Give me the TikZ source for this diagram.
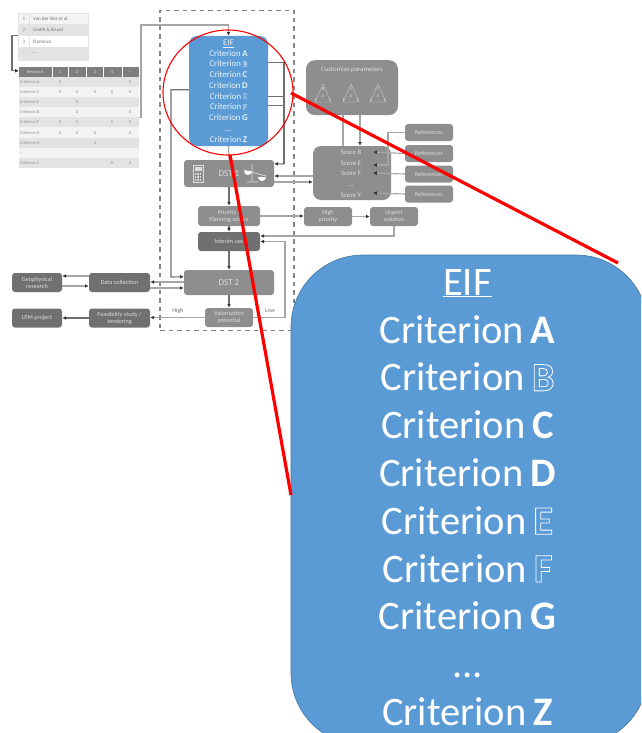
\documentclass[tikz,border=0pt]{standalone}
\usepackage{fontspec}
\setmainfont{Carlito}
\usetikzlibrary{arrows.meta,shapes.geometric}
\definecolor{eifblue}{HTML}{5B9BD5}
\definecolor{boxgrey}{HTML}{8E8E8E}
\definecolor{darkgrey}{HTML}{707070}
\definecolor{wiregrey}{HTML}{A6A6A6}
\definecolor{headdark}{HTML}{333333}
\definecolor{softtext}{HTML}{DDDDDD}
\definecolor{rowa}{HTML}{E3E3E3}
\definecolor{rowb}{HTML}{F3F3F3}
\definecolor{celltext}{HTML}{8A8A8A}
\newcommand{\tdots}{{.}{.}{.}}
\newcommand{\outl}[2]{\special{pdf:code q 1 Tr #2 w 1 1 1 RG}#1\special{pdf:code Q}}
\newcommand{\eifbody}[2]{\underline{EIF}\\Criterion#2\textbf{A}\\Criterion#2\textbf{\outl{B}{#1}}\\Criterion#2\textbf{C}\\Criterion#2\textbf{D}\\Criterion#2\textbf{\outl{E}{#1}}\\Criterion#2\textbf{\outl{F}{#1}}\\Criterion#2\textbf{G}\\...\\Criterion#2\textbf{Z}}
\tikzset{
  x=1pt,y=-1pt,
  gbox/.style={draw=none,fill=boxgrey,rounded corners=3pt,inner sep=0pt,align=center,text=softtext,font=\fontsize{6.2}{7}\selectfont},
  dbox/.style={gbox,fill=darkgrey},
  wire/.style={draw=wiregrey,line width=1.1pt},
  dwire/.style={draw=darkgrey,line width=1.1pt},
  arr/.style={-{Latex[length=3.8pt,width=3.8pt,color=headdark]}},
  cell/.style={inner sep=0pt,text=celltext,font=\fontsize{4.4}{5}\selectfont},
  hcell/.style={cell,text=softtext},
  score/.style={inner sep=0pt,text=softtext,font=\fontsize{6.8}{8}\selectfont},
  mini/.style={inner sep=0pt,text=softtext,font=\fontsize{4.4}{5}\selectfont},
  edgelabel/.style={inner sep=0pt,text=darkgrey,font=\fontsize{6}{7}\selectfont},
  redline/.style={draw=red,line width=3.2pt},
}
\begin{document}
\begin{tikzpicture}
\useasboundingbox (0,0) rectangle (641,733);
\clip (0,0) rectangle (641,733);
% dashed frame
\node[draw=darkgrey!85,line width=1.5pt,dash pattern=on 4.5pt off 4pt,minimum width=134,minimum height=320,inner sep=0pt] (frame) at (227,170.5) {};
% top table
\fill[rowb] (18,13) rectangle (88,24);
\fill[rowa] (18,24) rectangle (88,36);
\fill[white] (18,36) rectangle (88,47);
\fill[rowa] (18,47) rectangle (88,60);
\node[draw=rowa,line width=0.7pt,minimum width=70,minimum height=47,inner sep=0pt] (top) at (53,36.5) {};
\draw[rowa,line width=0.7pt] (29,13) -- (29,60);
\foreach \n/\y/\t/\s in {1/18.5/Van der Sler et al./1,2/30/Gaeth \& Kruyd/2,3/41.5/Flaminco/3,4/53.5/\tdots/\tdots}{
  \node[cell,font=\fontsize{5}{6}\selectfont] (topn\n) at (24,\y) {\s};
  \node[cell,font=\fontsize{5}{6}\selectfont,anchor=west,text=darkgrey] (topt\n) at (33,\y) {\t};
}
% criteria table
\node[fill=rowb,minimum width=120,minimum height=101,inner sep=0pt] (tbl) at (79,117.5) {};
\fill[darkgrey!90] (19,67) rectangle (139,77);
\foreach \r in {1,3,5,7,9}{\fill[rowa] (19,67+\r*10.1) rectangle (139,77+\r*10.1);}
\foreach \xa in {52,68,86,103,122}{\draw[white,line width=0.5pt] (\xa,67) -- (\xa,77);}
\node[hcell] (hd0) at (35,72) {Research};
\foreach \c/\x/\t in {1/60/1,2/77/2,3/95/3,4/112/4,5/130/\tdots}{\node[hcell] (hd\c) at (\x,72) {\t};}
\foreach \r/\t in {1/Criterion A,2/Criterion C,3/Criterion E,4/Criterion B,5/Criterion F,6/Criterion D,7/Criterion G,8/\tdots,9/Criterion Z}{
  \node[cell,anchor=west] (lab\r) at (20,72+\r*10.1) {\t};
}
\foreach \r/\x [count=\k] in {1/60,1/130,2/60,2/77,2/95,2/112,2/130,3/77,4/77,4/130,5/60,5/77,5/112,5/130,6/60,6/77,6/95,6/130,7/95,9/112,9/130}{
  \node[cell] (mk\k) at (\x,72+\r*10.1) {X};
}
% boxes
\node[fill=eifblue,rounded corners=8pt,minimum width=79,minimum height=110,inner sep=0pt,text=white!88!eifblue,align=center,font=\fontsize{8.8}{10.72}\selectfont] (eif) at (228.5,91) {\eifbody{0.15}{\hspace{1.6pt}}};
\node[gbox,minimum width=90,minimum height=27,font=\fontsize{9}{10}\selectfont] (dsta) at (229,173.5) {DST 1};
\node[gbox,minimum width=62,minimum height=20] (prio) at (229,216) {Priority /\\Planning advice};
\node[dbox,minimum width=62,minimum height=19] (inter) at (229,241.5) {Interim use};
\node[gbox,minimum width=90,minimum height=25,font=\fontsize{9}{10}\selectfont] (dstb) at (229,282.5) {DST 2};
\node[gbox,minimum width=48,minimum height=19] (val) at (229,317.5) {Valorisation\\potential};
\node[gbox,rounded corners=9pt,minimum width=92,minimum height=55,anchor=north,text depth=0pt] (cust) at (352,60) {};
\node[inner sep=0pt,text=softtext,font=\fontsize{6.8}{8}\selectfont] (custt) at (352,70) {Customize parameters};
\node[gbox,rounded corners=8pt,minimum width=78,minimum height=54] (scor) at (352,173) {};
\node[gbox,minimum width=48,minimum height=19] (hip) at (328,216.5) {High\\priority};
\node[gbox,minimum width=48,minimum height=19] (urg) at (394,216.5) {Urgent\\solution};
\foreach \n/\y in {1/132.5,2/153.5,3/174,4/194}{
  \node[gbox,minimum width=48,minimum height=17] (ref\n) at (429,\y) {References};
}
\node[dbox,minimum width=50,minimum height=19] (geo) at (37,282.5) {Geophysical\\research};
\node[dbox,minimum width=61,minimum height=19] (data) at (119.5,282.5) {Data collection};
\node[dbox,minimum width=50,minimum height=19] (lpm) at (37,318) {LPM project};
\node[dbox,minimum width=61,minimum height=19] (feas) at (119.5,318) {Feasibility study /\\tendering};
% score lines
\node[score] (sb) at (351,152) {Score B};
\node[score] (se) at (351,163) {Score E};
\node[score] (sf) at (351,173) {Score F};
\node[score] (sd) at (351,186) {\tdots};
\node[score] (sy) at (351,195) {Score Y};
\coordinate (db) at (373,152);
\coordinate (de) at (373,165);
\coordinate (df) at (373,173);
\coordinate (dy) at (373,193);
\coordinate (rj) at (388,165);
% triangles in Customize parameters
\foreach \k/\x/\a/\b/\c/\d in {1/323/B/A/E/F,2/351/Y/A/E/E,3/378/Y/A/E/F}{
  \draw[softtext,line width=0.25pt] (\x,84) -- (\x-8,102) -- (\x+8,102) -- cycle;
  \node[mini] (tra\k) at (\x,89) {\a};
  \node[mini] (trb\k) at (\x,96) {\b};
  \node[mini] (trc\k) at (\x-7,100) {\c};
  \node[mini] (trd\k) at (\x+7,100) {\d};
}
% calculator
\draw[softtext,line width=0.8pt] (193,165) rectangle (203,182);
\fill[softtext] (194.5,167) rectangle (201.5,171);
\foreach \i in {0,1,2}{\foreach \j in {0,1,2}{\fill[softtext] (194.5+\i*2.6,173+\j*2.9) rectangle +(1.7,1.7);}}
% balance
\draw[softtext,line width=0.7pt] (252,164) -- (252,182) (247,182) -- (258,182) (244,170) -- (266,176);
\fill[white] (244,171) -- (252,171) arc[start angle=0,end angle=-180,radius=4pt] -- cycle;
\fill[white] (258,177) -- (266,177) arc[start angle=0,end angle=-180,radius=4pt] -- cycle;
% connectors
\coordinate (tjl) at (12,50);
\coordinate (tjog) at (141,25);
\coordinate (busr) at (284,164);
\coordinate (busl) at (171,277);
\coordinate (lowj) at (285,318);
\draw[dwire,arr] ([yshift=-23pt]top.north west) -| (tjl) |- ([yshift=-4pt]tbl.north west);
\draw[wire,arr] ([yshift=-51pt]tbl.north east) -| (tjog) -| (eif.north);
\draw[dwire,arr] ([yshift=-54pt]eif.north west) -| (busl) -- ([yshift=-7pt]dstb.north west);
\draw[dwire] ([yshift=-27pt]eif.north east) -| (busr);
\draw[dwire] ([yshift=-61pt]eif.north east) -| (busr);
\draw[dwire] ([yshift=-70pt]eif.north east) -| (busr);
\draw[dwire,arr] (busr) -- ([yshift=-4pt]dsta.north east);
\draw[wire] (eif.south) -- (dsta.north);
\draw[dwire,arr] (dsta.south) -- (prio.north);
\draw[dwire,arr] (prio.south) -- (inter.north);
\draw[dwire,arr] (inter.south) -- (dstb.north);
\draw[dwire,arr] (dstb.south) -- (val.north);
\draw[wire,arr] (val.west) -- (val.west -| feas.east);
\draw[wire,arr] (val.east) -| (lowj) |- (inter.east);
\draw[dwire,arr] (feas.west) -- (feas.west -| lpm.east);
\draw[wire,arr] (prio.east) -- (prio.east -| hip.west);
\draw[wire,arr] (hip.east) -- (hip.east -| urg.west);
\draw[wire,arr] (urg.south) |- ([yshift=5.5pt]inter.east);
\draw[wire,arr] ([yshift=-3pt]scor.west) -- ([yshift=-3pt]scor.west -| dsta.east);
\draw[wire,arr] ([yshift=-8.5pt]dsta.east) -- ([yshift=-8.5pt]dsta.east -| scor.west);
\draw[wire] ([xshift=-9pt]cust.south) -- ([xshift=-9pt]scor.north);
\draw[wire,arr] ([xshift=8pt]cust.south) -- ([xshift=8pt]scor.north);
\draw[wire,arr] (ref1.west) -| (rj) -- (de);
\draw[wire,arr] (ref2.west) -- (db);
\draw[wire,arr] (ref3.west) -- (df);
\draw[wire,arr] (ref4.west) -- (dy);
\draw[wire,arr] ([yshift=0.5pt]dstb.west) -- ([yshift=0.5pt]dstb.west -| data.east);
\draw[wire,arr] ([yshift=-5.5pt]data.east) -- ([yshift=-5.5pt]data.east -| dstb.west);
\draw[wire,arr] ([yshift=6.5pt]data.west) -- ([yshift=6.5pt]data.west -| geo.east);
\draw[wire,arr] ([yshift=-3.5pt]geo.east) -- ([yshift=-3.5pt]geo.east -| data.west);
\node[edgelabel] (lhigh) at (178,311) {High};
\node[edgelabel] (llow) at (270,311) {Low};
% magnifier
\node[draw=red,line width=1.1pt,ellipse,minimum width=130,minimum height=125,inner sep=0pt] (lens) at (228,92.5) {};
\node[draw=eifblue!75!black,line width=0.6pt,fill=eifblue,rounded corners=72pt,minimum width=357,minimum height=490,inner sep=0pt] (big) at (469.5,500) {};
\node[inner sep=0pt,text=white,align=center,font=\fontsize{40.5}{47.8}\selectfont] (bigt) at (467.5,497.5) {\eifbody{0.8}{\hspace{7pt}}};
\coordinate (la) at (291,93);
\coordinate (lb) at (618,263);
\coordinate (lc) at (230,155);
\coordinate (ld) at (291,495);
\draw[redline] (la) -- (lb);
\draw[redline] (lc) -- (ld);
\end{tikzpicture}
\end{document}
